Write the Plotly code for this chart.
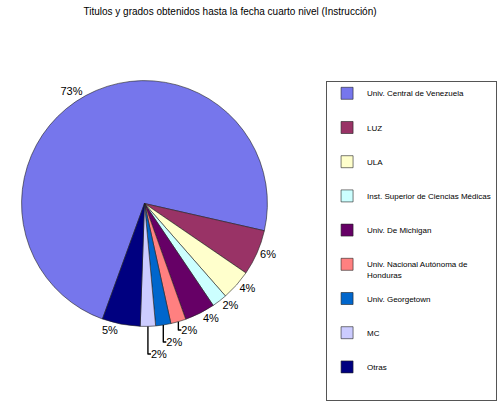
import plotly.graph_objects as go

# Titulos de cuarto nivel por institucion (porcentajes)
instituciones = [
    "Univ. Central de Venezuela",
    "LUZ",
    "ULA",
    "Inst. Superior de Ciencias Médicas",
    "Univ. De Michigan",
    "Univ. Nacional Autónoma de<br>Honduras",
    "Univ. Georgetown",
    "MC",
    "Otras",
]
porcentajes = [73, 6, 4, 2, 4, 2, 2, 2, 5]
colores = ["#7676EC", "#993366", "#FFFFCC", "#CCFFFF", "#660066",
           "#FF8080", "#0066CC", "#CCCCFF", "#000080"]

# blank lines so legend entries get the same loose spacing as the original
etiquetas = [n + ("<br> " if "<br>" in n else "<br> <br> ") for n in instituciones]

fig = go.Figure()
fig.add_trace(go.Pie(
    labels=etiquetas,
    values=porcentajes,
    sort=False,
    direction="clockwise",
    rotation=200,
    marker=dict(colors=colores, line=dict(color="#222222", width=0.6)),
    texttemplate="%{percent:.0%}",
    textposition="outside",
    textfont=dict(family="Liberation Sans, Arial", size=11, color="black"),
    domain=dict(x=[0.0, 0.54], y=[0.19, 0.80]),
    hoverinfo="label+percent",
))

fig.update_layout(
    width=500,
    height=403,
    margin=dict(l=0, r=0, t=0, b=0),
    paper_bgcolor="white",
    plot_bgcolor="white",
    font=dict(family="Liberation Sans, Arial", color="black"),
    title=dict(
        text="Titulos y grados obtenidos hasta la fecha cuarto nivel (Instrucción)",
        x=0.46, xanchor="center", y=0.98, yanchor="top",
        font=dict(family="Liberation Sans, Arial", size=10, color="black"),
    ),
    showlegend=True,
    legend=dict(
        x=0.994, xanchor="right",
        y=0.80, yanchor="top",
        bordercolor="#555555",
        borderwidth=1,
        bgcolor="white",
        valign="top",
        font=dict(family="Liberation Sans, Arial", size=8, color="black"),
    ),
)

# drop the browser's default body margin so the 500x403 figure fills the window
fig.write_html("out.html", config={"displayModeBar": False},
               post_script="document.body.style.margin='0';")
